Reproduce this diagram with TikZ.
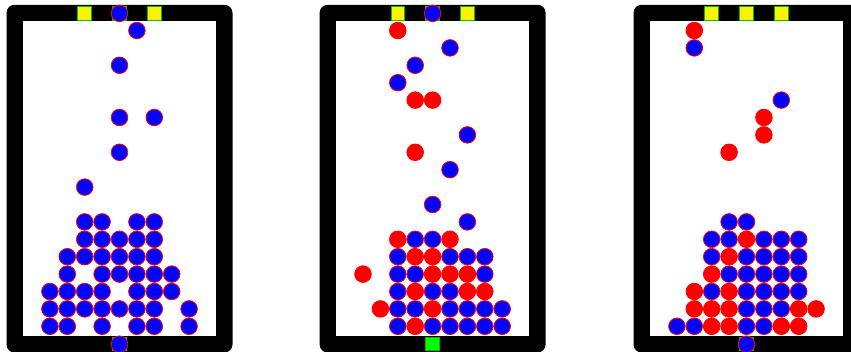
\documentclass[tikz,border=0pt]{standalone}
\usepackage{tikz}

\tikzset{
  ballb/.style={circle,draw=red,fill=blue,line width=0.8pt,minimum size=16.6pt,inner sep=0pt},
  ballr/.style={ballb,fill=red},
  gate/.style={draw=green!75!black,fill=yellow,line width=1pt,minimum size=13.6pt,inner sep=0pt},
  hole/.style={gate,fill=green},
}

% one bin: black frame, white inside, centred at x = #1
\newcommand{\binframe}[2]{%
  \fill[black,rounded corners=8pt] (#1-113,4.8) rectangle (#1+113,352.5);
  \fill[white] (#1-96.5,20.9) rectangle (#1+96.5,336);
  \coordinate (#2) at (#1,0);
}

\begin{document}
\begin{tikzpicture}[x=1pt,y=-1pt]
\useasboundingbox (0,0) rectangle (851,352);

% frames
\binframe{119.5}{binA}
\binframe{432.6}{binB}
\binframe{746.5}{binC}

% bin A
\begin{scope}[shift={(binA)}]
\node[gate] (a-g1) at (-34.8,13.4) {};
\node[gate] (a-g3) at (34.8,13.4) {};
\node[hole] (a-top) at (0,13.4) {};
\node[hole] (a-bot) at (0,344.2) {};
\node[ballb] (a-in) at (a-top) {};
\node[ballb] (a-out) at (a-bot) {};
\foreach \r/\cols in {0/{-4,-3,-1,1,2,4}, 1/{-4,-3,-2,-1,0,1,2,4},
    2/{-4,-3,-2,-1,1,2,3}, 3/{-3,-1,0,1,2,3}, 4/{-3,-2,-1,0,1,2},
    5/{-2,-1,0,1,2}, 6/{-2,-1,1,2}, 8/{-2}, 10/{0}, 12/{0,2}, 15/{0}, 17/{1}}
  \foreach \c in \cols
    \node[ballb] (a-\r-\c) at (\c*17.4,326.3-\r*17.4) {};
\end{scope}

% bin B
\begin{scope}[shift={(binB)}]
\node[gate] (b-g1) at (-34.8,13.4) {};
\node[gate] (b-g3) at (34.8,13.4) {};
\node[hole] (b-top) at (0,13.4) {};
\node[hole] (b-bot) at (0,344.2) {};
\node[ballb] (b-in) at (b-top) {};
\foreach \r/\cols in {0/{-2/b,-1/r,0/b,1/b,2/b,3/b,4/b},
    1/{-3/r,-2/b,-1/b,0/r,1/b,2/b,3/b,4/b},
    2/{-2/b,-1/r,0/b,1/b,2/r,3/r},
    3/{-4/r,-2/b,-1/b,0/r,1/r,2/r,3/b},
    4/{-2/b,-1/r,0/r,1/b,2/b,3/b},
    5/{-2/r,-1/b,0/b,1/r},
    6/{2/b}, 7/{0/b}, 9/{1/b}, 10/{-1/r}, 11/{2/b}, 13/{-1/r,0/r},
    14/{-2/b}, 15/{-1/b}, 16/{1/b}, 17/{-2/r}}
  \foreach \c/\k in \cols
    \node[ball\k] (b-\r-\c) at (\c*17.4,326.3-\r*17.4) {};
\end{scope}

% bin C
\begin{scope}[shift={(binC)}]
\node[gate] (c-g1) at (-34.8,13.4) {};
\node[gate] (c-g2) at (0,13.4) {};
\node[gate] (c-g3) at (34.8,13.4) {};
\node[hole] (c-bot) at (0,344.2) {};
\node[ballb] (c-out) at (c-bot) {};
\foreach \r/\cols in {0/{-4/b,-3/b,-2/r,-1/r,0/b,1/b,2/r,3/r},
    1/{-3/r,-2/r,-1/r,0/b,1/b,2/b,3/r,4/r},
    2/{-3/r,-2/b,-1/r,0/b,1/b,2/b,3/b},
    3/{-2/r,-1/b,0/b,1/b,2/b,3/b},
    4/{-2/b,-1/r,0/b,1/b,2/b,3/b},
    5/{-2/b,-1/b,0/r,1/b,2/b,3/b},
    6/{-1/b,0/b}, 10/{-1/r}, 11/{1/r}, 12/{1/r}, 13/{2/b},
    16/{-3/b}, 17/{-3/r}}
  \foreach \c/\k in \cols
    \node[ball\k] (c-\r-\c) at (\c*17.4,326.3-\r*17.4) {};
\end{scope}
\end{tikzpicture}
\end{document}
